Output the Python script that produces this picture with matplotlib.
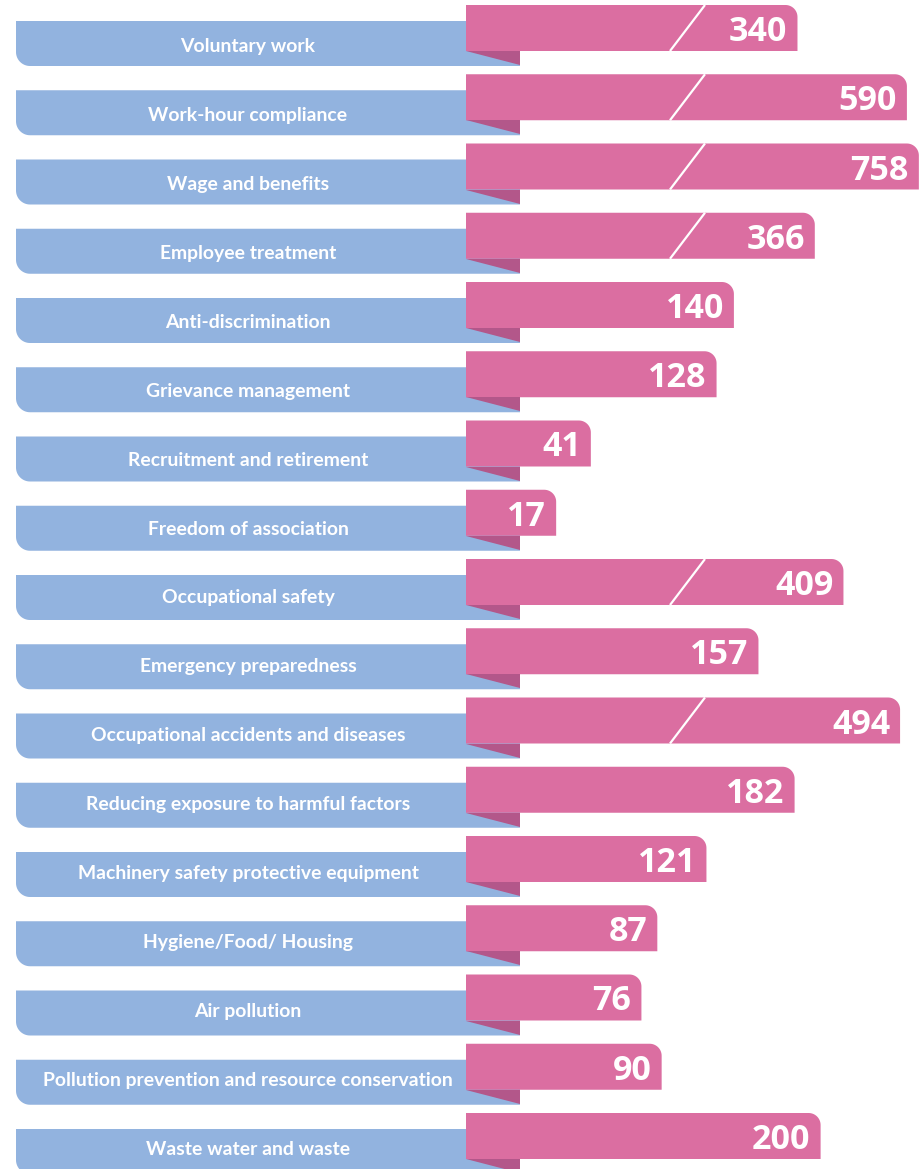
import numpy as np
import matplotlib
matplotlib.use("Agg")
import matplotlib.pyplot as plt
from matplotlib.path import Path
from matplotlib.patches import PathPatch, Polygon
from matplotlib.font_manager import FontProperties

# ---- data -------------------------------------------------------------
categories = [
    "Voluntary work",
    "Work-hour compliance",
    "Wage and benefits",
    "Employee treatment",
    "Anti-discrimination",
    "Grievance management",
    "Recruitment and retirement",
    "Freedom of association",
    "Occupational safety",
    "Emergency preparedness",
    "Occupational accidents and diseases",
    "Reducing exposure to harmful factors",
    "Machinery safety protective equipment",
    "Hygiene/Food/ Housing",
    "Air pollution",
    "Pollution prevention and resource conservation",
    "Waste water and waste",
]
counts = [340, 590, 758, 366, 140, 128, 41, 17, 409, 157, 494, 182, 121, 87, 76, 90, 200]

# values above this are drawn as broken bars on a compressed segment
BREAK_FROM = 300
BREAK_IN = [340, 494, 758]
BREAK_OUT = [184, 255, 268]

# ---- style ------------------------------------------------------------
BLUE = "#92B3DF"
PINK = "#DB6EA1"
FOLD = "#B3578A"

W, H = 919, 1169
ROW0, PITCH = 5.0, 69.25
PINK_H, BLUE_OFF, BLUE_H = 46.0, 16.0, 45.0
BLUE_X0, BLUE_X1 = 16.0, 520.0
PINK_X0 = 466.0
BASE_PX, PX_PER_UNIT = 65.6, 1.445
SLASH_X = (670.0, 705.0)
LABEL_CX = 248.0
LABEL_Y0, LABEL_PITCH = 52.0, 68.93
LABEL_SPAN = 410.0   # width of the longest label in pixels

label_fp = FontProperties(family=["Lato", "Open Sans", "DejaVu Sans"],
                          weight="bold")
value_fp = FontProperties(family=["Open Sans", "Noto Sans", "DejaVu Sans"],
                          weight="bold")


def shown(v):
    if v <= BREAK_FROM:
        return float(v)
    return float(np.interp(v, BREAK_IN, BREAK_OUT))


def bar_end(v):
    return PINK_X0 + BASE_PX + PX_PER_UNIT * shown(v)


def arc(cx, cy, r, fx, fy, n=16):
    t = np.linspace(0, np.pi / 2, n)
    return list(zip(cx + fx(t) * r, cy + fy(t) * r))


def blue_band(top):
    bot = top + BLUE_H
    r = 14.0
    pts = [(BLUE_X0, top), (BLUE_X1, top), (BLUE_X1, bot)]
    pts += arc(BLUE_X0 + r, bot - r, r, lambda t: -np.sin(t), lambda t: np.cos(t))
    pts.append((BLUE_X0, top))
    codes = [Path.MOVETO] + [Path.LINETO] * (len(pts) - 2) + [Path.CLOSEPOLY]
    return PathPatch(Path(pts, codes), facecolor=BLUE, edgecolor="none")


def pink_bar(top, x1):
    bot = top + PINK_H
    r = 12.0
    pts = [(PINK_X0, top)]
    pts += arc(x1 - r, top + r, r, lambda t: np.sin(t), lambda t: -np.cos(t))
    pts += [(x1, bot), (PINK_X0, bot), (PINK_X0, top)]
    codes = [Path.MOVETO] + [Path.LINETO] * (len(pts) - 2) + [Path.CLOSEPOLY]
    return PathPatch(Path(pts, codes), facecolor=PINK, edgecolor="none")


fig = plt.figure(figsize=(W / 100, H / 100), dpi=100)
ax = fig.add_axes([0, 0, 1, 1])
ax.set_xlim(0, W)
ax.set_ylim(H, 0)
ax.axis("off")

# size the label font so the longest label spans LABEL_SPAN pixels
renderer = fig.canvas.get_renderer()
longest = max(categories, key=len)
probe = ax.text(0, 0, longest, fontproperties=label_fp, fontsize=13)
w13 = probe.get_window_extent(renderer).width
probe.remove()
label_size = 13 * LABEL_SPAN / w13

for i, (name, v) in enumerate(zip(categories, counts)):
    ptop = ROW0 + i * PITCH
    pbot = ptop + PINK_H
    btop = ptop + BLUE_OFF
    bbot = btop + BLUE_H
    x1 = bar_end(v)

    ax.add_patch(blue_band(btop))
    ax.add_patch(pink_bar(ptop, x1))
    ax.add_patch(Polygon([(PINK_X0, pbot), (BLUE_X1, pbot), (BLUE_X1, bbot - 1)],
                         closed=True, facecolor=FOLD, edgecolor="none"))

    if v > BREAK_FROM:
        ax.plot(SLASH_X, (pbot, ptop), color="white", lw=1.6,
                solid_capstyle="butt")

    ax.text(LABEL_CX, LABEL_Y0 + i * LABEL_PITCH, name, ha="center",
            va="baseline", color="white", fontproperties=label_fp,
            fontsize=label_size)
    ax.text(x1 - 10, ptop + 36, f"{v}", ha="right", va="baseline",
            color="white", fontproperties=value_fp, fontsize=24.5)

fig.savefig("out.png", dpi=100)
